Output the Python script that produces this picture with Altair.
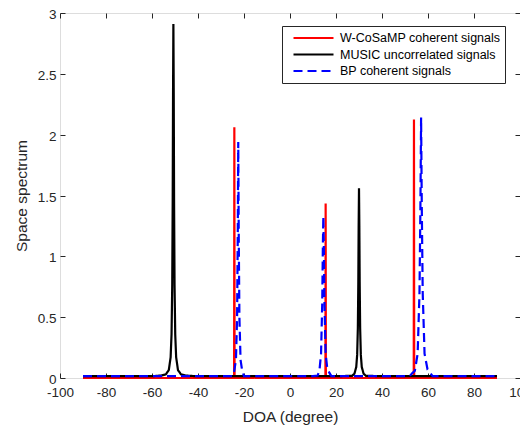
import altair as alt
import pandas as pd

series_names = ["W-CoSaMP coherent signals", "MUSIC uncorrelated signals", "BP coherent signals"]
series_colors = ["#ff0000", "#000000", "#0000ff"]
series_dash = [[1, 0], [1, 0], [9, 5]]

# W-CoSaMP coherent signals (red)
red_x = [-90, -24.3, -24.2, -24.1, 15.4, 15.5, 15.6, 53.8, 53.9, 54.0, 90]
red_y = [0, 0, 2.06, 0, 0, 1.435, 0, 0, 2.125, 0, 0]

# MUSIC uncorrelated signals (black)
black_x = [-90, -60, -56, -54, -52.7, -51.9, -51.5, -51.2, -51.0, -50.85, -50.7,
           -50.55, -50.4, -50.2, -49.9, -49.5, -48.7, -47.4, -45.4, -41,
           20, 27, 28, 28.8, 29.2, 29.5, 29.7, 29.85, 30.0, 30.15, 30.3, 30.5,
           30.8, 31.2, 32, 33, 40, 90]
black_y = [0.015, 0.015, 0.02, 0.03, 0.065, 0.17, 0.36, 0.77, 1.45, 2.33, 2.91,
           2.33, 1.45, 0.77, 0.36, 0.17, 0.065, 0.03, 0.02, 0.015,
           0.015, 0.018, 0.035, 0.09, 0.19, 0.41, 0.78, 1.25, 1.56, 1.25, 0.78, 0.41,
           0.19, 0.09, 0.035, 0.018, 0.015, 0.015]

# BP coherent signals (blue dashed)
blue_x = [-90, -25, -24.3, -23.5, -23.0, -22.7, -22.5, -22.3, -22.0, -21.5, -20.8, -20,
          10, 12, 12.8, 13.5, 14.0, 14.3, 14.5, 14.7, 15.0, 15.5, 16.2, 17.2, 18,
          52, 53.2, 54.3, 55.5, 56.3, 56.7, 57.0, 57.3, 57.7, 58.5, 59.8, 61, 62, 90]
blue_y = [0.015, 0.015, 0.05, 0.15, 0.5, 1.2, 1.94, 1.2, 0.5, 0.15, 0.06, 0.015,
          0.015, 0.02, 0.06, 0.2, 0.6, 1.1, 1.33, 1.1, 0.6, 0.2, 0.08, 0.04, 0.015,
          0.015, 0.04, 0.06, 0.2, 0.7, 1.4, 2.14, 1.4, 0.7, 0.2, 0.07, 0.04, 0.015, 0.015]

x_ticks = [-100, -80, -60, -40, -20, 0, 20, 40, 60, 80, 100]
y_ticks = [0, 0.5, 1, 1.5, 2, 2.5, 3]


def frame(xs, ys, name):
    return pd.DataFrame({"x": xs, "y": ys, "series": name, "i": list(range(len(xs)))})


df_red = frame(red_x, red_y, series_names[0])
df_black = frame(black_x, black_y, series_names[1])
df_blue = frame(blue_x, blue_y, series_names[2])

FONT = "Liberation Sans"
AX = "#262626"
inward = {"expr": "-5"}

x_scale = alt.Scale(domain=[-100, 100], nice=False, zero=False)
y_scale = alt.Scale(domain=[0, 3], nice=False, zero=False)
color_scale = alt.Scale(domain=series_names, range=series_colors)
dash_scale = alt.Scale(domain=series_names, range=series_dash)

x_axis = alt.Axis(orient="bottom", values=x_ticks, labelExpr="'' + datum.value",
                  title="DOA (degree)",
                  tickSize=inward, tickColor=AX, domain=False, grid=False,
                  labelFont=FONT, labelFontSize=13.5, labelColor=AX, labelPadding=12,
                  labelFlush=False,
                  titleFont=FONT, titleFontSize=15.5, titleFontWeight="normal",
                  titleColor=AX, titlePadding=10.5)
y_axis = alt.Axis(orient="left", values=y_ticks, labelExpr="'' + datum.value",
                  title="Space spectrum",
                  tickSize=inward, tickColor=AX, domain=False, grid=False,
                  labelFont=FONT, labelFontSize=13.5, labelColor=AX, labelPadding=9,
                  labelFlush=False, labelOffset=1.5,
                  titleFont=FONT, titleFontSize=15.5, titleFontWeight="normal",
                  titleColor=AX, titlePadding=8)

legend = alt.Legend(title=None, orient="none", legendX=222, legendY=13,
                    symbolType="stroke", symbolSize=1600, symbolStrokeWidth=2.2,
                    strokeColor=AX, fillColor="white", padding=4, symbolOffset=6,
                    labelFont=FONT, labelFontSize=12.5, labelColor="black",
                    labelLimit=400, labelOffset=5, clipHeight=16, rowPadding=0.5)


def layer(df, first=False):
    return alt.Chart(df).mark_line(strokeWidth=2.2).encode(
        x=alt.X("x:Q", scale=x_scale, axis=x_axis if first else None),
        y=alt.Y("y:Q", scale=y_scale, axis=y_axis if first else None),
        color=alt.Color("series:N", scale=color_scale, legend=legend),
        strokeDash=alt.StrokeDash("series:N", scale=dash_scale, legend=legend),
        order=alt.Order("i:Q"),
    )


frame_ticks = alt.Chart(df_red).mark_point(opacity=0).encode(
    x=alt.X("x:Q", scale=x_scale,
            axis=alt.Axis(orient="top", values=x_ticks, labels=False, title=None,
                          tickSize=inward, tickColor=AX, domain=False, grid=False)),
    y=alt.Y("y:Q", scale=y_scale,
            axis=alt.Axis(orient="right", values=y_ticks, labels=False, title=None,
                          tickSize=inward, tickColor=AX, domain=False, grid=False)),
)

chart = alt.layer(
    layer(df_red, True), layer(df_black), layer(df_blue), frame_ticks
).resolve_axis(x="independent", y="independent").properties(
    width=460, height=365,
    autosize=alt.AutoSizeParams(type="none"),
    padding={"left": 52, "top": 5, "right": 0, "bottom": 48},
).configure_view(stroke=AX, strokeWidth=1).configure(background="white")

chart.save("out.html", embed_options={"renderer": "svg", "actions": False})
